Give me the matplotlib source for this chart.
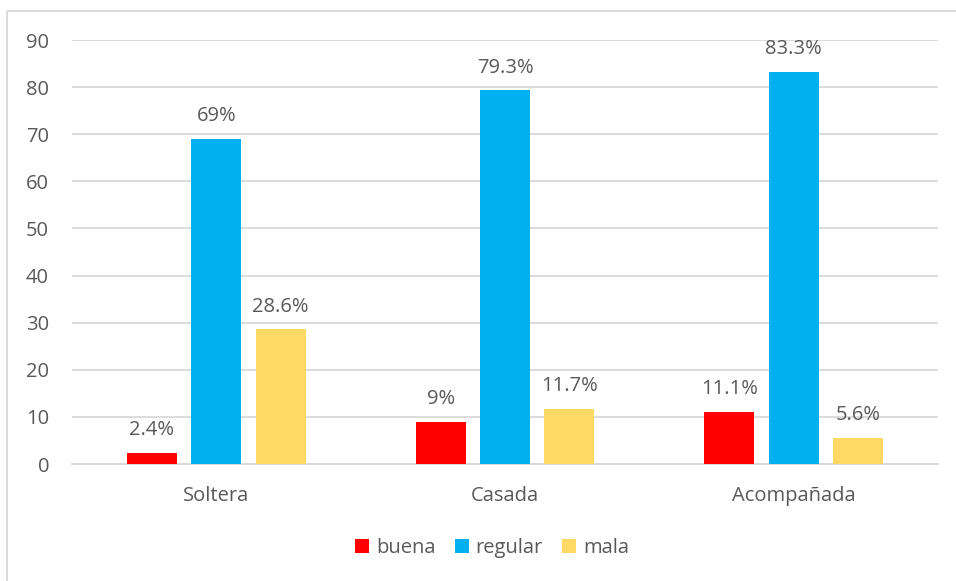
import matplotlib
matplotlib.use("Agg")
import matplotlib.pyplot as plt
import numpy as np
from matplotlib.patches import Rectangle

categories = ["Soltera", "Casada", "Acompañada"]
series_names = ["buena", "regular", "mala"]
buena = [2.4, 9, 11.1]
regular = [69, 79.3, 83.3]
mala = [28.6, 11.7, 5.6]
labels_buena = ["2.4%", "9%", "11.1%"]
labels_regular = ["69%", "79.3%", "83.3%"]
labels_mala = ["28.6%", "11.7%", "5.6%"]
yticks = [0, 10, 20, 30, 40, 50, 60, 70, 80, 90]

colors = ["#FF0000", "#00B0F0", "#FFD966"]
text_color = "#595959"
plt.rcParams["font.family"] = ["Open Sans", "DejaVu Sans"]
FS = 14.5

W, H = 956, 581
fig = plt.figure(figsize=(W / 100, H / 100), dpi=100)
ax = fig.add_axes([72 / W, (H - 464) / H, (938 - 72) / W, (464 - 40) / H])

x = np.arange(len(categories))
bw = 0.173
step = 0.223
data = [buena, regular, mala]
labs = [labels_buena, labels_regular, labels_mala]
for i, (vals, lab) in enumerate(zip(data, labs)):
    pos = x + (i - 1) * step
    bars = ax.bar(pos, vals, width=bw, color=colors[i], label=series_names[i], zorder=3)
    for b, t in zip(bars, lab):
        ax.annotate(t, (b.get_x() + b.get_width() / 2, b.get_height()),
                    xytext=(0, 9), textcoords="offset points",
                    ha="center", va="bottom", fontsize=FS, color=text_color)

ax.set_xlim(-0.5, 2.5)
ax.set_ylim(0, 90)
ax.set_yticks(yticks)
ax.set_xticks(x)
ax.set_xticklabels(categories)
ax.grid(axis="y", color="#D9D9D9", linewidth=1.3, zorder=0)
for s in ["top", "right", "left"]:
    ax.spines[s].set_visible(False)
ax.spines["bottom"].set_color("#D9D9D9")
ax.spines["bottom"].set_linewidth(1.3)
ax.tick_params(axis="both", length=0, labelsize=FS, colors=text_color)
ax.tick_params(axis="x", pad=16)
ax.tick_params(axis="y", pad=16.5)

leg = fig.legend(loc="center", bbox_to_anchor=(492 / W, (H - 548) / H), ncol=3,
                 frameon=False, fontsize=FS, handlelength=0.7, handleheight=0.7,
                 handletextpad=0.35, columnspacing=0.95)
for t in leg.get_texts():
    t.set_color(text_color)

fig.patches.append(Rectangle((7 / W, -0.05), 1.1, (H - 11) / H + 0.05,
                             transform=fig.transFigure, fill=False,
                             edgecolor="#D9D9D9", linewidth=1.3))

fig.savefig("out.png", dpi=100)
